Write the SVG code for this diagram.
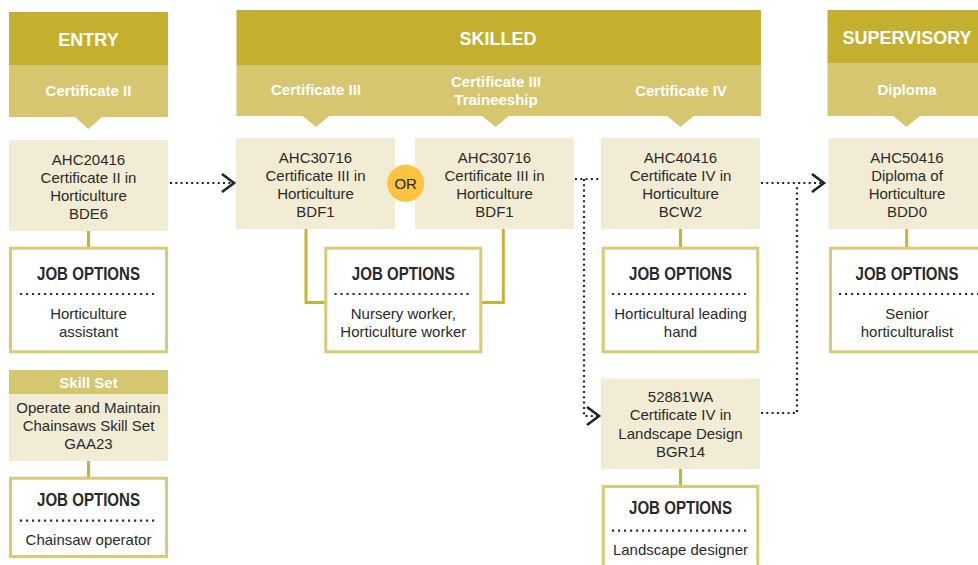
<svg xmlns="http://www.w3.org/2000/svg" width="978" height="565" viewBox="0 0 978 565">
<style>
.dark{fill:#c4b02e}
.light{fill:#d5c66f}
.qual{fill:#f2ecd5}
.hd{font-family:"Liberation Sans",Arial,sans-serif;font-weight:bold;font-size:18px;fill:#fff;text-anchor:middle}
.sub{font-family:"Liberation Sans",Arial,sans-serif;font-weight:bold;font-size:15px;fill:#fff;text-anchor:middle}
.t{font-family:"Liberation Sans",Arial,sans-serif;font-size:15px;fill:#2a2a2a;text-anchor:middle}
.jo{font-family:"Liberation Sans",Arial,sans-serif;font-weight:bold;font-size:18px;fill:#2a2a2a;text-anchor:middle}
.job{fill:#fff;stroke:#d9cb74;stroke-width:3}
.sep{stroke:#333;stroke-width:2.2;stroke-dasharray:2.2 3.8;fill:none}
.link{stroke:#c7b334;stroke-width:3;fill:none}
.dot{stroke:#222;stroke-width:2.2;stroke-dasharray:2 3.3;fill:none}
</style>
<defs>
<marker id="chev" markerUnits="userSpaceOnUse" markerWidth="16" markerHeight="22" refX="13" refY="10" orient="auto" overflow="visible">
<path d="M1,1 L13,10 L1,19" fill="none" stroke="#222" stroke-width="2.6"/>
</marker>
</defs>

<!-- headers -->
<g id="header-entry">
<rect class="dark" x="9" y="12" width="159" height="53"/>
<rect class="light" x="9" y="65" width="159" height="52"/>
<polygon class="light" points="74,116 103,116 88.5,129"/>
<text class="hd" x="88.5" y="45.5">ENTRY</text>
<text class="sub" x="88.5" y="96">Certificate II</text>
</g>
<g id="header-skilled">
<rect class="dark" x="236.5" y="10" width="524.5" height="55"/>
<rect class="light" x="236.5" y="65" width="524.5" height="51"/>
<polygon class="light" points="301.5,115 330.5,115 316,127"/>
<polygon class="light" points="481,115 510,115 495.5,127"/>
<polygon class="light" points="666,115 695,115 680.5,127"/>
<text class="hd" x="498" y="45">SKILLED</text>
<text class="sub" x="316" y="95">Certificate III</text>
<text class="sub" x="496" y="87">Certificate III</text>
<text class="sub" x="496" y="105">Traineeship</text>
<text class="sub" x="681" y="96">Certificate IV</text>
</g>
<g id="header-supervisory">
<rect class="dark" x="827.5" y="10" width="160" height="53"/>
<rect class="light" x="827.5" y="63" width="160" height="53"/>
<polygon class="light" points="892,115 921,115 906.5,127"/>
<text class="hd" x="907" y="43.5">SUPERVISORY</text>
<text class="sub" x="907" y="95">Diploma</text>
</g>

<!-- connectors -->
<g id="connectors">
<path class="link" d="M88.5,231 V247"/>
<path class="link" d="M88.5,461 V477"/>
<path class="link" d="M306,229 V302.5 H325"/>
<path class="link" d="M503.3,229 V302.5 H481"/>
<path class="link" d="M680.5,229 V247"/>
<path class="link" d="M906.7,229 V247"/>
<path class="link" d="M680.5,469 V485"/>
<path class="dot" d="M170,183 H234" marker-end="url(#chev)"/>
<path class="dot" d="M575,179 H600"/>
<path class="dot" d="M584,179 V416 H599" marker-end="url(#chev)"/>
<path class="dot" d="M761,183 H824" marker-end="url(#chev)"/>
<path class="dot" d="M761,413 H797 V184"/>
</g>

<!-- qualification nodes -->
<g id="node-ahc20416">
<rect class="qual" x="9" y="140" width="159" height="91"/>
<text class="t" x="88.5" y="164.5">AHC20416</text>
<text class="t" x="88.5" y="182.5">Certificate II in</text>
<text class="t" x="88.5" y="200.5">Horticulture</text>
<text class="t" x="88.5" y="218.5">BDE6</text>
</g>
<g id="node-ahc30716">
<rect class="qual" x="236" y="138" width="159" height="91"/>
<text class="t" x="315.5" y="162.5">AHC30716</text>
<text class="t" x="315.5" y="180.5">Certificate III in</text>
<text class="t" x="315.5" y="198.5">Horticulture</text>
<text class="t" x="315.5" y="216.5">BDF1</text>
</g>
<g id="node-ahc30716-traineeship">
<rect class="qual" x="415" y="138" width="159" height="91"/>
<text class="t" x="494.5" y="162.5">AHC30716</text>
<text class="t" x="494.5" y="180.5">Certificate III in</text>
<text class="t" x="494.5" y="198.5">Horticulture</text>
<text class="t" x="494.5" y="216.5">BDF1</text>
</g>
<g id="node-or">
<circle cx="405.7" cy="183.3" r="18.5" fill="#fbc33f"/>
<text class="t" x="405.7" y="188.7">OR</text>
</g>
<g id="node-ahc40416">
<rect class="qual" x="601" y="138" width="159" height="91"/>
<text class="t" x="680.5" y="162.5">AHC40416</text>
<text class="t" x="680.5" y="180.5">Certificate IV in</text>
<text class="t" x="680.5" y="198.5">Horticulture</text>
<text class="t" x="680.5" y="216.5">BCW2</text>
</g>
<g id="node-ahc50416">
<rect class="qual" x="828.5" y="138" width="160" height="91"/>
<text class="t" x="907" y="162.5">AHC50416</text>
<text class="t" x="907" y="180.5">Diploma of</text>
<text class="t" x="907" y="198.5">Horticulture</text>
<text class="t" x="907" y="216.5">BDD0</text>
</g>
<g id="node-52881wa">
<rect class="qual" x="601" y="378.5" width="159" height="90.5"/>
<text class="t" x="680.5" y="402">52881WA</text>
<text class="t" x="680.5" y="420">Certificate IV in</text>
<text class="t" x="680.5" y="438.5">Landscape Design</text>
<text class="t" x="680.5" y="456.5">BGR14</text>
</g>
<g id="node-skillset">
<rect class="light" x="9" y="370" width="159" height="24"/>
<rect class="qual" x="9" y="394" width="159" height="67"/>
<text class="sub" x="88.5" y="388">Skill Set</text>
<text class="t" x="88.5" y="412.5">Operate and Maintain</text>
<text class="t" x="88.5" y="430.5">Chainsaws Skill Set</text>
<text class="t" x="88.5" y="448.5">GAA23</text>
</g>

<!-- job option nodes -->
<g id="job-entry">
<rect class="job" x="10.5" y="248.2" width="156" height="103.6"/>
<text class="jo" x="88.5" y="279.5" textLength="103" lengthAdjust="spacingAndGlyphs">JOB OPTIONS</text>
<path class="sep" d="M20,294 H158"/>
<text class="t" x="88.5" y="318.5">Horticulture</text>
<text class="t" x="88.5" y="337">assistant</text>
</g>
<g id="job-skilled">
<rect class="job" x="325.8" y="248.2" width="155" height="103.6"/>
<text class="jo" x="403.3" y="279.5" textLength="103" lengthAdjust="spacingAndGlyphs">JOB OPTIONS</text>
<path class="sep" d="M334.5,294 H472.5"/>
<text class="t" x="403.3" y="318.5">Nursery worker,</text>
<text class="t" x="403.3" y="337">Horticulture worker</text>
</g>
<g id="job-cert4">
<rect class="job" x="603.2" y="248.2" width="154.6" height="103.6"/>
<text class="jo" x="680.5" y="279.5" textLength="103" lengthAdjust="spacingAndGlyphs">JOB OPTIONS</text>
<path class="sep" d="M612,294 H750"/>
<text class="t" x="680.5" y="318.5">Horticultural leading</text>
<text class="t" x="680.5" y="337">hand</text>
</g>
<g id="job-diploma">
<rect class="job" x="830.5" y="248.2" width="200" height="103.6"/>
<text class="jo" x="907" y="279.5" textLength="103" lengthAdjust="spacingAndGlyphs">JOB OPTIONS</text>
<path class="sep" d="M839,294 H980"/>
<text class="t" x="907" y="318.5">Senior</text>
<text class="t" x="907" y="337">horticulturalist</text>
</g>
<g id="job-chainsaw">
<rect class="job" x="10.5" y="478.2" width="156" height="78.3"/>
<text class="jo" x="88.5" y="505.5" textLength="103" lengthAdjust="spacingAndGlyphs">JOB OPTIONS</text>
<path class="sep" d="M20,520.7 H158"/>
<text class="t" x="88.5" y="545">Chainsaw operator</text>
</g>
<g id="job-landscape">
<rect class="job" x="603.2" y="486.5" width="154.6" height="100"/>
<text class="jo" x="680.5" y="513.5" textLength="103" lengthAdjust="spacingAndGlyphs">JOB OPTIONS</text>
<path class="sep" d="M612,530.7 H750"/>
<text class="t" x="680.5" y="555">Landscape designer</text>
</g>
</svg>
